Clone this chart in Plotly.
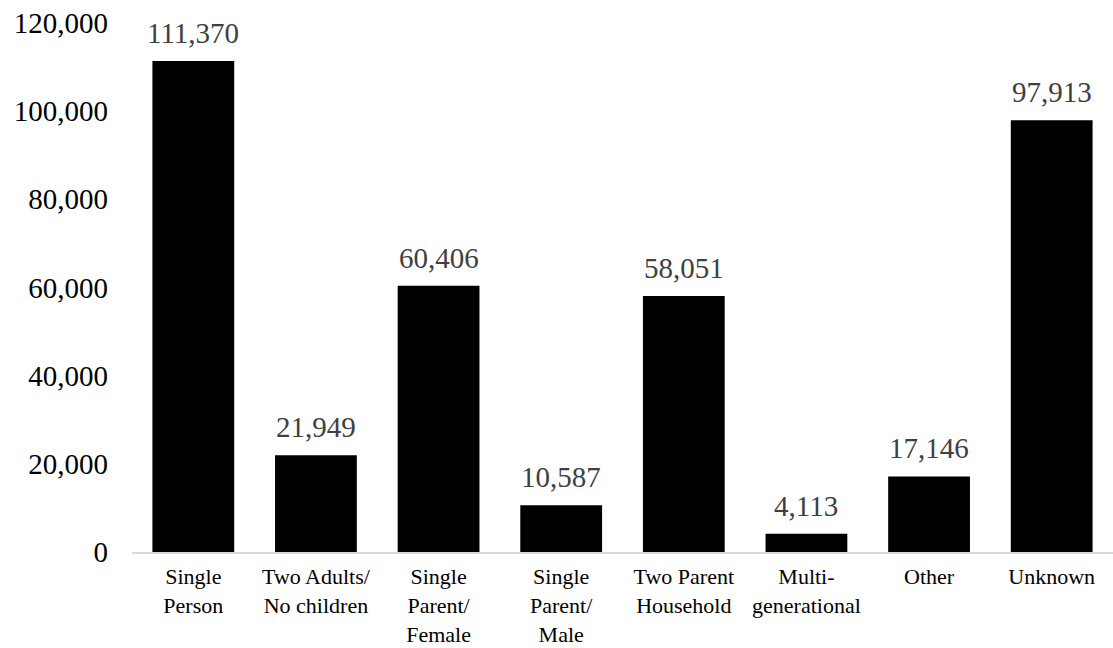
import plotly.graph_objects as go

categories = [
    "Single<br>Person",
    "Two Adults/<br>No children",
    "Single<br>Parent/<br>Female",
    "Single<br>Parent/<br>Male",
    "Two Parent<br>Household",
    "Multi-<br>generational",
    "Other",
    "Unknown",
]
households = [111370, 21949, 60406, 10587, 58051, 4113, 17146, 97913]
y_ticks = [0, 20000, 40000, 60000, 80000, 100000, 120000]

FONT = "Liberation Serif, Times New Roman, serif"

fig = go.Figure(
    go.Bar(
        x=categories,
        y=households,
        marker=dict(color="#000000", line=dict(width=0)),
        hoverinfo="skip",
    )
)

# value labels above each bar
for cat, val in zip(categories, households):
    fig.add_annotation(
        x=cat, y=val, text=f"{val:,}",
        showarrow=False, yanchor="bottom", yshift=10,
        font=dict(family=FONT, size=29, color="#404040"),
    )

fig.update_layout(
    width=1113, height=648,
    margin=dict(l=132, r=0, t=23, b=96),
    paper_bgcolor="white", plot_bgcolor="white",
    bargap=0.333,
    showlegend=False,
    font=dict(family=FONT, color="#000000"),
)
fig.update_xaxes(
    automargin=False,
    showline=True, linecolor="#d9d9d9", linewidth=2,
    showgrid=False, ticks="", ticklabelstandoff=4,
    tickfont=dict(family=FONT, size=22, color="#000000"),
    fixedrange=True,
)
fig.update_yaxes(
    automargin=False,
    range=[0, 120000], tickvals=y_ticks,
    ticktext=[f"{v:,}" for v in y_ticks],
    showgrid=False, zeroline=False, showline=False, ticks="",
    ticklabelstandoff=23,
    tickfont=dict(family=FONT, size=29, color="#000000"),
    fixedrange=True,
)

fig.write_html("out.html")
